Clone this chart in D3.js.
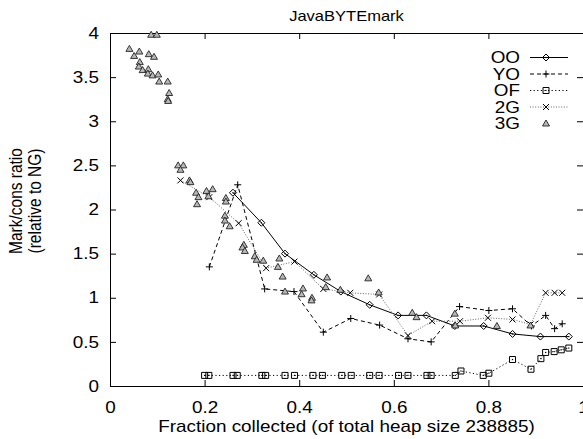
<!DOCTYPE html>
<html><head><meta charset="utf-8">
<script src="https://cdn.jsdelivr.net/npm/d3@7"></script>
<style>body{margin:0;background:#fff} svg{display:block} text{font-family:"Liberation Sans",Arial,sans-serif;fill:#000}</style>
</head><body>
<svg id="c" width="583" height="439"></svg>
<script>
const chartTitle = "JavaBYTEmark";
const xLabel = "Fraction collected (of total heap size 238885)";
const yLabelLines = ["Mark/cons ratio", "(relative to NG)"];
const xTicks = [0, 0.2, 0.4, 0.6, 0.8, 1];
const yTicks = [0, 0.5, 1, 1.5, 2, 2.5, 3, 3.5, 4];
const seriesNames = ["OO", "YO", "OF", "2G", "3G"];

const ooX = [0.260, 0.320, 0.370, 0.431, 0.488, 0.549, 0.609, 0.669, 0.729, 0.790, 0.851, 0.910, 0.970];
const ooY = [2.19, 1.85, 1.50, 1.26, 1.07, 0.92, 0.80, 0.80, 0.68, 0.68, 0.59, 0.56, 0.56];

const yoX = [0.210, 0.270, 0.327, 0.389, 0.451, 0.509, 0.570, 0.630, 0.679, 0.739, 0.801, 0.851, 0.891, 0.921, 0.940, 0.956];
const yoY = [1.35, 2.28, 1.10, 1.07, 0.61, 0.765, 0.69, 0.535, 0.50, 0.90, 0.855, 0.875, 0.68, 0.80, 0.65, 0.705];

const ofX = [0.200, 0.209, 0.260, 0.269, 0.321, 0.329, 0.370, 0.390, 0.429, 0.449, 0.490, 0.510, 0.549, 0.569, 0.610, 0.630, 0.670, 0.679, 0.730, 0.742, 0.789, 0.801, 0.851, 0.890, 0.911, 0.921, 0.939, 0.954, 0.970];
const ofY = [0.12, 0.12, 0.12, 0.12, 0.12, 0.12, 0.12, 0.12, 0.12, 0.12, 0.12, 0.12, 0.12, 0.12, 0.12, 0.12, 0.12, 0.12, 0.12, 0.17, 0.12, 0.145, 0.30, 0.19, 0.31, 0.38, 0.39, 0.41, 0.43];

const g2X = [0.149, 0.210, 0.272, 0.330, 0.390, 0.451, 0.508, 0.569, 0.630, 0.681, 0.740, 0.799, 0.851, 0.889, 0.921, 0.940, 0.956];
const g2Y = [2.33, 2.14, 1.845, 1.335, 1.41, 1.10, 1.056, 1.037, 0.572, 0.734, 0.734, 0.773, 0.754, 0.697, 1.056, 1.056, 1.056];

const g3X = [0.087, 0.099, 0.041, 0.062, 0.051, 0.082, 0.093, 0.063, 0.061, 0.069, 0.081, 0.080, 0.090, 0.102, 0.104, 0.122, 0.125, 0.122, 0.123,
  0.144, 0.155, 0.149, 0.168, 0.170, 0.182, 0.187, 0.184, 0.204, 0.217, 0.208, 0.245, 0.245, 0.243, 0.243, 0.253,
  0.283, 0.280, 0.285, 0.306, 0.310, 0.324, 0.358, 0.355, 0.365, 0.370, 0.408, 0.405, 0.427, 0.426, 0.459, 0.456,
  0.487, 0.546, 0.568, 0.639, 0.648, 0.729, 0.730, 0.818, 0.889];
const g3Y = [3.98, 3.98, 3.82, 3.79, 3.74, 3.76, 3.73, 3.67, 3.62, 3.58, 3.59, 3.54, 3.52, 3.53, 3.45, 3.45, 3.32, 3.25, 3.23,
  2.50, 2.50, 2.45, 2.33, 2.31, 2.19, 2.14, 2.06, 2.21, 2.23, 2.15, 2.13, 2.09, 1.93, 1.875, 1.81,
  1.60, 1.57, 1.53, 1.47, 1.43, 1.42, 1.445, 1.35, 1.24, 1.07, 1.105, 1.04, 1.00, 0.97, 1.23, 1.12,
  1.09, 1.22, 1.06, 0.83, 0.78, 0.82, 0.686, 0.68, 0.686];

const SX = 1.18;   // horizontal stretch of the original rendering's type
const FS = 16;

const svg = d3.select("#c");
const x = d3.scaleLinear().domain([0, 1]).range([110, 583]);
const y = d3.scaleLinear().domain([0, 4]).range([386, 33]);
const fmt = d3.format("");

// axes (gnuplot style: inward ticks, mirrored)
const gl = svg.append("g").attr("transform", "translate(110,0)")
  .call(d3.axisLeft(y).tickValues(yTicks).tickFormat(fmt).tickSize(-6).tickSizeOuter(0).tickPadding(11));
const gb = svg.append("g").attr("transform", "translate(0,386)")
  .call(d3.axisBottom(x).tickValues(xTicks).tickFormat(fmt).tickSize(-6).tickSizeOuter(0).tickPadding(16));
const gt = svg.append("g").attr("transform", "translate(0,33)")
  .call(d3.axisTop(x).tickValues(xTicks).tickFormat("").tickSize(-6).tickSizeOuter(0));
const gr = svg.append("g").attr("transform", "translate(583,0)")
  .call(d3.axisRight(y).tickValues(yTicks).tickFormat("").tickSize(-6).tickSizeOuter(0));
[gl, gb, gt, gr].forEach(g => {
  g.selectAll("text").attr("font-size", FS).attr("font-family", "Liberation Sans, Arial, sans-serif").attr("fill", "#000")
    .attr("transform", `scale(${SX},1)`);
  g.selectAll("line,path").attr("stroke", "#000").attr("stroke-width", 1);
});
gl.selectAll("text").attr("x", -11 / SX);

// titles
svg.append("text").attr("transform", `translate(${(x(0) + x(1)) / 2},21) scale(${SX},1)`).attr("text-anchor", "middle")
  .attr("font-size", 14).text(chartTitle);
svg.append("text").attr("transform", `translate(${(x(0) + x(1)) / 2},432) scale(${SX},1)`).attr("text-anchor", "middle")
  .attr("font-size", FS).text(xLabel);
const yl = svg.append("text").attr("transform", `translate(23,201) scale(${SX},1) rotate(-90)`)
  .attr("text-anchor", "middle").attr("font-size", 15.5);
yl.append("tspan").attr("x", 0).attr("dy", "-0.05em").text(yLabelLines[0]);
yl.append("tspan").attr("x", 0).attr("dy", "1.02em").text(yLabelLines[1]);

// marker shapes
const markers = {
  diamond: "M0,-3.5L3.5,0L0,3.5L-3.5,0Z",
  plus: "M-3.5,0H3.5M0,-3.5V3.5",
  square: "M-3,-3H3V3H-3Z",
  cross: "M-3,-3L3,3M-3,3L3,-3",
  triangle: "M0,-3.5L3.5,2.5L-3.5,2.5Z"
};

const series = [
  { name: seriesNames[0], xs: ooX, ys: ooY, dash: null, color: "#000", marker: "diamond", dot: true, line: true },
  { name: seriesNames[1], xs: yoX, ys: yoY, dash: "4,3", color: "#000", marker: "plus", dot: false, line: true },
  { name: seriesNames[2], xs: ofX, ys: ofY, dash: "1.2,2.4", color: "#000", marker: "square", dot: true, line: true },
  { name: seriesNames[3], xs: g2X, ys: g2Y, dash: "1,1.6", color: "#666", marker: "cross", dot: false, line: true },
  { name: seriesNames[4], xs: g3X, ys: g3Y, dash: null, color: "#000", marker: "triangle", dot: false, line: false }
];

function drawMarker(g, s, px, py) {
  if (s.marker === "triangle") {
    g.append("path").attr("d", markers.triangle).attr("transform", `translate(${px},${py})`)
      .attr("fill", "#b8b8b8").attr("stroke", "#222").attr("stroke-width", 0.9);
  } else {
    g.append("path").attr("d", markers[s.marker]).attr("transform", `translate(${px},${py})`)
      .attr("fill", "none").attr("stroke", "#000").attr("stroke-width", 1);
    if (s.dot) g.append("rect").attr("x", px - 0.6).attr("y", py - 0.6).attr("width", 1.2).attr("height", 1.2).attr("fill", "#000");
  }
}

const line = d3.line().x(d => x(d[0])).y(d => y(d[1]));
series.forEach(s => {
  const pts = s.xs.map((v, i) => [v, s.ys[i]]);
  const g = svg.append("g");
  if (s.line) {
    g.append("path").attr("d", line(pts)).attr("fill", "none").attr("stroke", s.color)
      .attr("stroke-width", 1).attr("stroke-dasharray", s.dash);
  }
  pts.forEach(p => drawMarker(g, s, x(p[0]), y(p[1])));
});

// legend
series.forEach((s, i) => {
  const ly = 57.5 + 16.5 * i;
  const g = svg.append("g");
  g.append("text").attr("transform", `translate(520,${ly}) scale(${SX},1)`).attr("dy", "0.36em").attr("text-anchor", "end")
    .attr("font-size", FS).text(s.name);
  if (s.line) g.append("line").attr("x1", 530).attr("x2", 568).attr("y1", ly).attr("y2", ly)
    .attr("stroke", s.color).attr("stroke-width", 1).attr("stroke-dasharray", s.dash);
  drawMarker(g, s, 546, ly);
});
</script>
</body></html>
